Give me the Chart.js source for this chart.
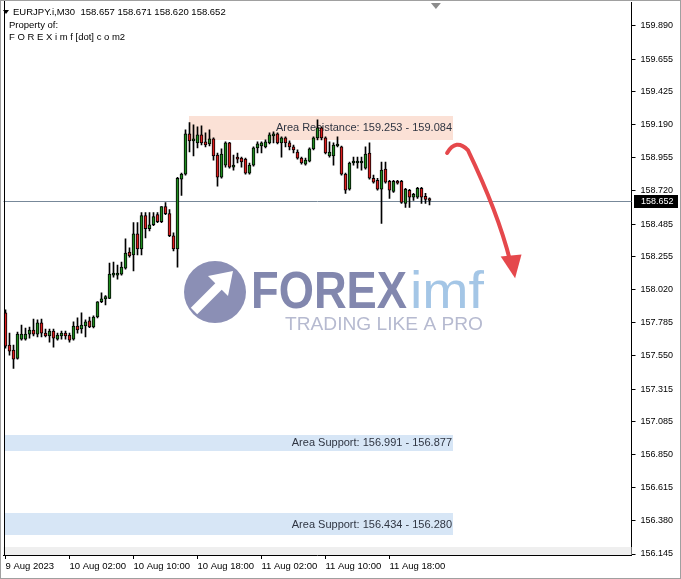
<!DOCTYPE html>
<html>
<head>
<meta charset="utf-8">
<script src="https://cdn.jsdelivr.net/npm/chart.js@4.4.0/dist/chart.umd.min.js"></script>
<style>
html, body { margin: 0; padding: 0; background: #fff; }
canvas { display: block; }
</style>
</head>
<body>
<canvas id="chart" width="681" height="579"></canvas>
<script>
// Constants
const SYMBOL = 'EURJPY.i,M30';
const TOTAL_SLOTS = 157;   // candles + empty space on the right (chart shift)
const TICK_STEP = 16;      // one time label every 16 candles (8 hours)

// Candles, M30, from 9 Aug 2023 18:00
const opens = [157.856,157.626,157.591,157.533,157.669,157.669,157.705,157.734,157.705,157.784,
  157.712,157.691,157.726,157.669,157.691,157.712,157.698,157.669,157.762,157.741,
  157.762,157.798,157.755,157.826,157.934,157.955,157.958,158.123,158.123,158.130,
  158.173,158.287,158.266,158.416,158.309,158.545,158.452,158.480,158.552,158.502,
  158.609,158.559,158.402,158.308,158.803,158.839,159.125,159.075,159.061,159.118,
  159.068,159.054,159.089,158.975,158.817,158.903,159.061,158.889,158.960,158.953,
  158.946,158.846,158.903,159.025,159.039,159.032,159.061,159.111,159.125,159.061,
  159.096,159.061,159.032,158.996,158.953,158.910,158.932,159.018,159.096,159.168,
  159.096,158.968,158.968,159.039,159.032,158.839,158.732,158.918,158.918,158.918,
  158.882,158.989,158.810,158.796,158.732,158.875,158.789,158.717,158.789,158.789,
  158.632,158.725,158.675,158.675,158.739,158.682,158.657];
const highs = [157.877,157.712,157.626,157.719,157.769,157.748,157.755,157.812,157.805,157.812,
  157.741,157.741,157.741,157.712,157.726,157.726,157.712,157.791,157.820,157.855,
  157.805,157.826,157.834,157.936,157.998,157.977,158.209,158.216,158.194,158.216,
  158.380,158.316,158.495,158.495,158.566,158.566,158.566,158.566,158.566,158.609,
  158.638,158.588,158.423,158.817,158.846,159.154,159.204,159.189,159.175,159.182,
  159.132,159.154,159.096,158.989,159.018,159.068,159.064,158.975,158.989,158.960,
  158.953,158.918,159.032,159.068,159.068,159.082,159.132,159.139,159.132,159.104,
  159.104,159.075,159.046,159.011,158.960,158.953,159.025,159.104,159.225,159.175,
  159.104,159.068,159.061,159.104,159.039,158.846,158.925,158.960,158.960,158.960,
  159.032,159.061,158.832,158.810,158.925,158.925,158.796,158.796,158.796,158.796,
  158.739,158.732,158.703,158.746,158.746,158.703,158.671];
const lows = [157.605,157.555,157.462,157.526,157.662,157.662,157.676,157.691,157.684,157.684,
  157.684,157.648,157.612,157.662,157.669,157.669,157.648,157.662,157.712,157.712,
  157.684,157.750,157.748,157.819,157.927,157.912,157.956,158.109,158.094,158.123,
  158.166,158.251,158.152,158.266,158.266,158.387,158.437,158.473,158.495,158.495,
  158.552,158.395,158.294,158.180,158.689,158.832,158.996,158.968,159.025,159.046,
  159.032,159.039,158.939,158.753,158.810,158.889,158.882,158.868,158.918,158.889,
  158.839,158.839,158.896,158.989,158.989,159.025,159.054,159.061,159.054,158.960,
  159.032,159.011,158.989,158.946,158.910,158.903,158.925,159.011,159.082,159.082,
  158.982,158.960,158.903,159.032,158.832,158.703,158.725,158.903,158.882,158.868,
  158.875,158.803,158.775,158.725,158.489,158.775,158.667,158.710,158.768,158.632,
  158.603,158.603,158.653,158.667,158.632,158.632,158.620];
const closes = [157.619,157.584,157.526,157.705,157.705,157.705,157.734,157.705,157.784,157.712,
  157.691,157.726,157.676,157.698,157.712,157.691,157.662,157.762,157.734,157.769,
  157.791,157.755,157.826,157.934,157.955,157.970,158.130,158.137,158.137,158.180,
  158.280,158.259,158.416,158.309,158.545,158.452,158.480,158.538,158.502,158.609,
  158.559,158.402,158.309,158.810,158.839,159.125,159.075,159.089,159.118,159.061,
  159.046,159.089,158.968,158.817,158.982,159.061,158.889,158.903,158.946,158.925,
  158.846,158.903,159.025,159.054,159.061,159.068,159.118,159.125,159.061,159.096,
  159.061,159.032,159.011,158.953,158.918,158.939,159.018,159.096,159.168,159.096,
  158.989,158.996,159.046,159.046,158.839,158.725,158.918,158.925,158.925,158.925,
  158.982,158.810,158.782,158.732,158.868,158.782,158.725,158.789,158.775,158.639,
  158.732,158.675,158.696,158.739,158.675,158.660,158.652];

// Axis labels
const timeLabels = ['9 Aug 2023', '10 Aug 02:00', '10 Aug 10:00', '10 Aug 18:00', '11 Aug 02:00', '11 Aug 10:00', '11 Aug 18:00'];
const priceTicks = [159.890, 159.655, 159.425, 159.190, 158.955, 158.720, 158.485, 158.255, 158.020,
  157.785, 157.550, 157.315, 157.085, 156.850, 156.615, 156.380, 156.145];
const priceMin = 156.138;
const priceMax = 160.060;

// Zones (price range, slot range)
const zoneLabels = ['Area Resistance: 159.253 - 159.084', 'Area Support: 156.991 - 156.877', 'Area Support: 156.434 - 156.280'];
const zoneTop = [159.253, 156.991, 156.434];
const zoneBottom = [159.084, 156.877, 156.280];
const zoneStart = [45.9, -0.5, -0.5];
const zoneEnd = [111.9, 111.9, 111.9];
const bandTop = 156.195;

// Red arrow (slot, price)
const arrowPath = [[110.4, 158.989], [112.6, 159.095], [115.6, 159.010], [118.6, 158.833], [123.6, 158.514], [126.1, 158.230]];
const arrowHead = [[123.8, 158.255], [127.4, 158.100], [129.0, 158.270]];

const slots = Array.from({ length: TOTAL_SLOTS }, (_, i) => i);
const lastClose = closes[closes.length - 1];

// Styles
const FONT = '"Liberation Sans", Arial, sans-serif';
const BULL = '#1f8c1f';
const BEAR = '#dc1e1e';
const ZONE_FILL = ['#fbe1d6', '#d7e6f6', '#d7e6f6'];

function isTimeTick(i) {
    return i % TICK_STEP === 0 && i / TICK_STEP < timeLabels.length;
}

function fitText(ctx, text, x, y, width, font, color) {
    ctx.save();
    ctx.font = font;
    ctx.fillStyle = color;
    ctx.textAlign = 'left';
    ctx.textBaseline = 'alphabetic';
    const w = ctx.measureText(text).width;
    ctx.translate(x, y);
    ctx.scale(width / w, 1);
    ctx.fillText(text, 0, 0);
    ctx.restore();
}

// Logo in the background
function drawWatermark(ctx) {
    ctx.save();
    ctx.fillStyle = '#8b8fb5';
    ctx.beginPath();
    ctx.arc(215, 292, 31, 0, Math.PI * 2);
    ctx.fill();
    ctx.strokeStyle = '#fff';
    ctx.lineWidth = 9;
    ctx.beginPath();
    ctx.moveTo(194, 311);
    ctx.lineTo(219, 286);
    ctx.stroke();
    ctx.fillStyle = '#fff';
    ctx.beginPath();
    ctx.moveTo(233, 271);
    ctx.lineTo(208, 276);
    ctx.lineTo(228, 296);
    ctx.closePath();
    ctx.fill();
    ctx.restore();
    fitText(ctx, 'FOREX', 251, 308, 156, 'bold 52px ' + FONT, '#8287ae');
    fitText(ctx, 'imf', 410, 308, 74, '52px ' + FONT, '#a4c6e6');
    fitText(ctx, 'TRADING LIKE A PRO', 285, 330, 198, '19px ' + FONT, '#b6bad0');
}

const overlay = {
    id: 'overlay',
    beforeDatasetsDraw(chart) {
        const { ctx, chartArea: a, scales: { x, y } } = chart;
        ctx.save();
        // bottom grey band
        ctx.fillStyle = '#efefef';
        const yb = Math.round(y.getPixelForValue(bandTop));
        ctx.fillRect(a.left, yb, a.right - a.left, a.bottom - yb);

        // zones
        zoneLabels.forEach((label, i) => {
            const x0 = Math.round(Math.max(a.left, x.getPixelForValue(zoneStart[i])));
            const x1 = Math.round(x.getPixelForValue(zoneEnd[i]));
            const y0 = Math.round(y.getPixelForValue(zoneTop[i]));
            const y1 = Math.round(y.getPixelForValue(zoneBottom[i]));
            ctx.fillStyle = ZONE_FILL[i];
            ctx.fillRect(x0, y0, x1 - x0, y1 - y0);
        });

        drawWatermark(ctx);

        zoneLabels.forEach((label, i) => {
            const x1 = Math.round(x.getPixelForValue(zoneEnd[i]));
            const ym = (y.getPixelForValue(zoneTop[i]) + y.getPixelForValue(zoneBottom[i])) / 2;
            ctx.font = '11px ' + FONT;
            ctx.fillStyle = '#2f3542';
            ctx.textAlign = 'right';
            ctx.textBaseline = 'middle';
            ctx.fillText(label, x1 - 1, ym + 0.5);
        });

        // current price line
        const yp = Math.round(y.getPixelForValue(lastClose)) + 0.5;
        ctx.strokeStyle = '#778899';
        ctx.lineWidth = 1;
        ctx.beginPath();
        ctx.moveTo(a.left, yp);
        ctx.lineTo(a.right, yp);
        ctx.stroke();
        ctx.restore();
    },
    afterDatasetsDraw(chart) {
        const { ctx, scales: { x, y } } = chart;
        const px = p => [x.getPixelForValue(p[0]), y.getPixelForValue(p[1])];
        const pts = arrowPath.map(px);
        ctx.save();
        ctx.strokeStyle = '#e5484c';
        ctx.fillStyle = '#e5484c';
        ctx.lineWidth = 4;
        ctx.lineCap = 'round';
        ctx.beginPath();
        ctx.moveTo(pts[0][0], pts[0][1]);
        ctx.quadraticCurveTo(pts[1][0], pts[1][1], pts[2][0], pts[2][1]);
        ctx.bezierCurveTo(pts[3][0], pts[3][1], pts[4][0], pts[4][1], pts[5][0], pts[5][1]);
        ctx.stroke();
        const head = arrowHead.map(px);
        ctx.beginPath();
        ctx.moveTo(head[0][0], head[0][1]);
        ctx.lineTo(head[1][0], head[1][1]);
        ctx.lineTo(head[2][0], head[2][1]);
        ctx.closePath();
        ctx.fill();
        ctx.restore();
    },
    afterDraw(chart) {
        const { ctx, chartArea: a, scales: { x, y } } = chart;
        ctx.save();
        // left border of the plot
        ctx.fillStyle = '#000';
        ctx.fillRect(Math.round(a.left), 0, 1, a.bottom);

        // chart shift marker
        const xs = x.getPixelForValue(107.6);
        ctx.fillStyle = '#8c8c8c';
        ctx.beginPath();
        ctx.moveTo(xs - 5, 3);
        ctx.lineTo(xs + 5, 3);
        ctx.lineTo(xs, 9);
        ctx.closePath();
        ctx.fill();

        // price box on the axis
        const yp = Math.round(y.getPixelForValue(lastClose));
        ctx.fillStyle = '#000';
        ctx.fillRect(Math.round(a.right) + 2, yp - 6, 44, 13);
        ctx.fillStyle = '#fff';
        ctx.font = '9px ' + FONT;
        ctx.textAlign = 'left';
        ctx.textBaseline = 'middle';
        ctx.fillText(lastClose.toFixed(3), Math.round(a.right) + 9, yp + 0.5);

        // header
        ctx.fillStyle = '#000';
        ctx.beginPath();
        ctx.moveTo(3, 10);
        ctx.lineTo(9, 10);
        ctx.lineTo(6, 14);
        ctx.closePath();
        ctx.fill();
        ctx.font = '9.5px ' + FONT;
        const n = opens.length - 1;
        const ohlc = [opens[n], highs[n], lows[n], closes[n]].map(v => v.toFixed(3)).join(' ');
        ctx.fillText(SYMBOL + '  ' + ohlc, 13, 12.5);
        ctx.fillText('Property of:', 9, 25);
        ctx.fillText('F O R E X i m f [dot] c o m2', 9, 37.5);

        // window frame
        ctx.strokeStyle = '#a0a0a0';
        ctx.lineWidth = 1;
        ctx.strokeRect(0.5, 0.5, 680, 578);
        ctx.restore();
    }
};

Chart.defaults.font.family = FONT;
Chart.defaults.font.size = 9;
Chart.defaults.color = '#000';

new Chart(document.getElementById('chart'), {
    type: 'bar',
    data: {
        labels: slots,
        datasets: [
            {
                label: 'wick',
                data: lows.map((l, i) => [l, highs[i]]),
                backgroundColor: '#000',
                barThickness: 1,
                grouped: false,
                order: 2
            },
            {
                label: 'body',
                data: opens.map((o, i) => [o, closes[i]]),
                backgroundColor: opens.map((o, i) => closes[i] >= o ? BULL : BEAR),
                borderColor: '#000',
                borderWidth: 1,
                borderSkipped: false,
                barThickness: 3,
                minBarLength: 2,
                grouped: false,
                order: 1
            }
        ]
    },
    options: {
        responsive: false,
        animation: false,
        devicePixelRatio: 1,
        layout: { padding: { left: 3.5, top: 2, right: 0, bottom: 0 } },
        plugins: { legend: { display: false }, tooltip: { enabled: false } },
        scales: {
            x: {
                offset: true,
                grid: {
                    drawOnChartArea: false,
                    drawTicks: true,
                    tickLength: 4,
                    offset: false,
                    color: c => isTimeTick(c.index) ? '#000' : 'rgba(0,0,0,0)'
                },
                border: { display: true, color: '#000' },
                ticks: {
                    autoSkip: false,
                    maxRotation: 0,
                    minRotation: 0,
                    align: 'start',
                    padding: 2,
                    color: '#000',
                    font: { size: 9.5 },
                    callback: (v, i) => isTimeTick(i) ? timeLabels[i / TICK_STEP] : ''
                },
                afterFit: s => { s.height = 24; s.paddingLeft = 0; s.paddingRight = 0; }
            },
            y: {
                position: 'right',
                min: priceMin,
                max: priceMax,
                afterBuildTicks: s => { s.ticks = priceTicks.map(v => ({ value: v })); },
                grid: { drawOnChartArea: false, tickLength: 4, color: '#000' },
                border: { display: true, color: '#000' },
                ticks: { padding: 5, color: '#000', callback: v => v.toFixed(3) },
                afterFit: s => { s.width = 49.5; s.paddingTop = 0; s.paddingBottom = 0; }
            }
        }
    },
    plugins: [overlay]
});
</script>
</body>
</html>
